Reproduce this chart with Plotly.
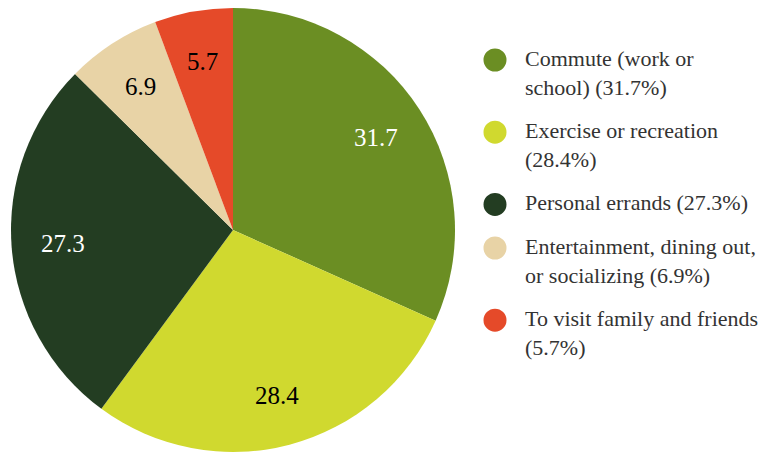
import math
import plotly.graph_objects as go

# Trip purposes and their shares (%)
categories = [
    "Commute (work or school)",
    "Exercise or recreation",
    "Personal errands",
    "Entertainment, dining out, or socializing",
    "To visit family and friends",
]
shares = [31.7, 28.4, 27.3, 6.9, 5.7]
legend_labels = [
    "Commute (work or<br>school) (31.7%)",
    "Exercise or recreation<br>(28.4%)",
    "Personal errands (27.3%)",
    "Entertainment, dining out,<br>or socializing (6.9%)",
    "To visit family and friends<br>(5.7%)",
]
slice_colors = ["#6B8E23", "#D0D92F", "#233D22", "#E8D3A6", "#E54A29"]
label_colors = ["white", "black", "white", "black", "black"]

W, H = 763, 453
FONT = "Liberation Serif"

# Pie placement in pixels (left, right, top, bottom)
px_l, px_r, px_t, px_b = 10, 456, 8, 452
cx, cy = (px_l + px_r) / 2, (px_t + px_b) / 2
radius = min(px_r - px_l, px_b - px_t) / 2

fig = go.Figure()
fig.add_trace(go.Pie(
    labels=categories,
    values=shares,
    sort=False,
    direction="clockwise",
    rotation=0,
    marker=dict(colors=slice_colors, line=dict(width=0)),
    textinfo="none",
    hoverinfo="label+value",
    showlegend=False,
    domain=dict(x=[px_l / W, px_r / W], y=[1 - px_b / H, 1 - px_t / H]),
))

annotations, shapes = [], []

# Value labels placed on each slice's bisector
total = sum(shares)
cum = 0.0
for v, col in zip(shares, label_colors):
    mid = (cum + v / 2) / total * 2 * math.pi
    cum += v
    r = 0.77 * radius
    lx = cx + r * math.sin(mid)
    ly = cy - r * math.cos(mid)
    annotations.append(dict(
        text=f"{v}", xref="paper", yref="paper",
        x=lx / W, y=1 - ly / H, xanchor="center", yanchor="middle",
        showarrow=False,
        font=dict(family=FONT, size=25, color=col),
    ))

# Hand-built legend: round swatches with wrapped labels
legend_font = 22
line_h = 1.3 * legend_font
gap = 15
y_line = 60  # centre of the first text line, px from top
marker_x = 495
text_x = 523
for label, color in zip(legend_labels, slice_colors):
    n_lines = label.count("<br>") + 1
    yp = 1 - y_line / H
    shapes.append(dict(
        type="circle", xref="paper", yref="paper",
        xsizemode="pixel", ysizemode="pixel",
        xanchor=marker_x / W, yanchor=yp,
        x0=-11.5, x1=11.5, y0=-11.5, y1=11.5,
        fillcolor=color, line=dict(width=0),
    ))
    annotations.append(dict(
        text=label, xref="paper", yref="paper",
        x=text_x / W, y=1 - (y_line - line_h / 2 - 2) / H,
        xanchor="left", yanchor="top", align="left",
        showarrow=False,
        font=dict(family=FONT, size=legend_font, color="#333333"),
    ))
    y_line += n_lines * line_h + gap

fig.update_layout(
    width=W, height=H,
    margin=dict(l=0, r=0, t=0, b=0),
    paper_bgcolor="white",
    plot_bgcolor="white",
    shapes=shapes,
    annotations=annotations,
    showlegend=False,
)

fig.write_html("out.html")
